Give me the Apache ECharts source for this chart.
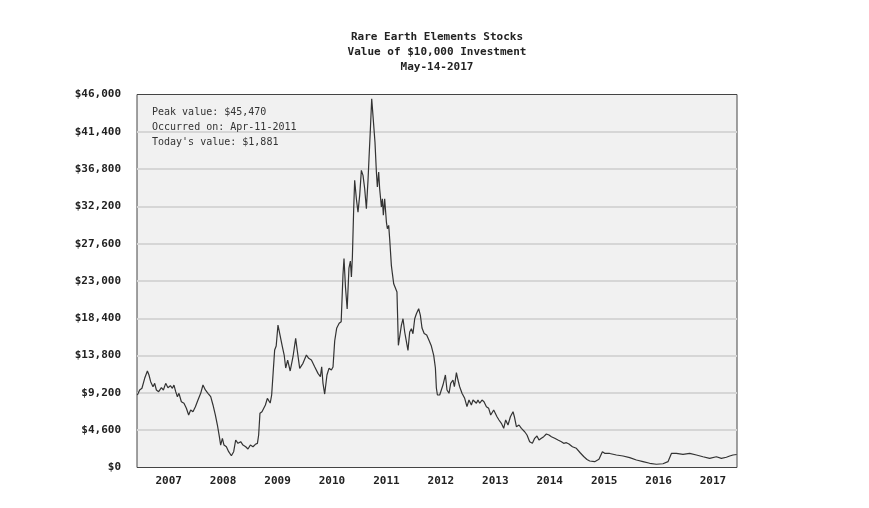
<!DOCTYPE html>
<html>
<head>
<meta charset="utf-8">
<script src="https://cdn.jsdelivr.net/npm/echarts@6/dist/echarts.min.js"></script>
<style>
  html, body { margin: 0; padding: 0; background: #fff; }
  #chart { width: 869px; height: 508px; }
</style>
</head>
<body>
<div id="chart"></div>
<script>
// x position in years (label "2007" sits at 2007)
const dates = [
  2006.425, 2006.467, 2006.509, 2006.559, 2006.609, 2006.638, 2006.669, 2006.712, 2006.743, 2006.774,
  2006.816, 2006.866, 2006.903, 2006.945, 2006.987, 2007.031, 2007.068, 2007.097, 2007.129, 2007.160,
  2007.189, 2007.233, 2007.281, 2007.325, 2007.367, 2007.404, 2007.446, 2007.491, 2007.538, 2007.588,
  2007.630, 2007.674, 2007.722, 2007.772, 2007.814, 2007.858, 2007.895, 2007.931, 2007.955, 2007.987,
  2008.016, 2008.060, 2008.102, 2008.152, 2008.194, 2008.231, 2008.273, 2008.323, 2008.365, 2008.415,
  2008.457, 2008.501, 2008.549, 2008.593, 2008.630, 2008.653, 2008.677, 2008.714, 2008.740, 2008.777,
  2008.813, 2008.843, 2008.865, 2008.892, 2008.920, 2008.947, 2008.975, 2009.008, 2009.039, 2009.089,
  2009.122, 2009.150, 2009.186, 2009.232, 2009.284, 2009.333, 2009.361, 2009.407, 2009.467, 2009.530,
  2009.572, 2009.622, 2009.682, 2009.743, 2009.787, 2009.811, 2009.835, 2009.866, 2009.908, 2009.945,
  2009.989, 2010.019, 2010.050, 2010.086, 2010.132, 2010.169, 2010.202, 2010.221, 2010.248, 2010.279,
  2010.312, 2010.338, 2010.357, 2010.375, 2010.399, 2010.417, 2010.448, 2010.478, 2010.509, 2010.540,
  2010.570, 2010.601, 2010.632, 2010.662, 2010.680, 2010.706, 2010.730, 2010.753, 2010.772, 2010.790,
  2010.816, 2010.834, 2010.858, 2010.876, 2010.908, 2010.926, 2010.944, 2010.968, 2011.000, 2011.018,
  2011.042, 2011.060, 2011.091, 2011.110, 2011.134, 2011.165, 2011.194, 2011.220, 2011.244, 2011.275,
  2011.305, 2011.336, 2011.367, 2011.396, 2011.428, 2011.459, 2011.488, 2011.520, 2011.551, 2011.593,
  2011.624, 2011.654, 2011.694, 2011.740, 2011.782, 2011.826, 2011.869, 2011.900, 2011.918, 2011.937,
  2011.979, 2012.010, 2012.039, 2012.084, 2012.113, 2012.150, 2012.181, 2012.223, 2012.249, 2012.286,
  2012.315, 2012.346, 2012.389, 2012.438, 2012.480, 2012.517, 2012.561, 2012.591, 2012.622, 2012.653,
  2012.682, 2012.714, 2012.756, 2012.793, 2012.837, 2012.879, 2012.916, 2012.947, 2012.971, 2013.002,
  2013.032, 2013.068, 2013.112, 2013.155, 2013.191, 2013.234, 2013.278, 2013.326, 2013.351, 2013.388,
  2013.436, 2013.480, 2013.540, 2013.583, 2013.632, 2013.682, 2013.724, 2013.766, 2013.803, 2013.847,
  2013.890, 2013.939, 2013.987, 2014.031, 2014.092, 2014.152, 2014.215, 2014.257, 2014.307, 2014.354,
  2014.417, 2014.490, 2014.564, 2014.624, 2014.685, 2014.735, 2014.826, 2014.905, 2014.968, 2015.010,
  2015.102, 2015.225, 2015.347, 2015.470, 2015.593, 2015.714, 2015.837, 2015.960, 2016.081, 2016.173,
  2016.236, 2016.327, 2016.449, 2016.572, 2016.695, 2016.816, 2016.939, 2017.062, 2017.154, 2017.246,
  2017.307, 2017.367, 2017.435
]

// value of the $10,000 investment
const values = [
  8940, 9560, 9770, 11000, 11900, 11410, 10580, 9960, 10380, 9560,
  9350, 9840, 9560, 10380, 9840, 10090, 9770, 10170, 9350, 8730,
  9150, 8110, 7920, 7300, 6470, 7090, 6880, 7500, 8320, 9150,
  10170, 9560, 9150, 8730, 7710, 6470, 5240, 3800, 2770, 3600,
  2770, 2560, 1950, 1450, 1950, 3390, 2980, 3180, 2770, 2560,
  2280, 2770, 2560, 2860, 2980, 4010, 6680, 6880, 6680, 7710,
  8530, 8320, 7950, 8940, 11780, 14490, 14980, 17570, 16550, 14890,
  13870, 12270, 13250, 11900, 13660, 15930, 14490, 12230, 12850, 13870,
  13460, 13250, 12430, 11610, 11200, 12430, 10380, 9060, 11410, 12230,
  12020, 12390, 15600, 17160, 17780, 17980, 23740, 25770, 22260, 19540,
  24600, 25460, 23490, 25960, 31910, 35410, 33140, 31500, 33560, 36640,
  36030, 34380, 31910, 35410, 38080, 41770, 45470, 43430, 43620, 40130,
  36440, 34590, 36440, 34380, 32120, 33140, 31100, 33140, 30270, 29440,
  29860, 28210, 24930, 23900, 22660, 22660, 21640, 15070, 14860, 17530,
  18350, 16710, 16920, 14450, 16710, 17110, 16500, 18350, 18960, 19580,
  18770, 17200, 16520, 16340, 15680, 14980, 13830, 12270, 9800, 8940,
  8940, 9150, 10170, 11410, 9560, 9150, 10380, 10790, 9960, 11690,
  10790, 9960, 9150, 8530, 7500, 8320, 7710, 8320, 8530, 7920,
  8320, 7920, 8320, 8110, 7500, 7300, 6470, 6680, 7090, 6880,
  6260, 5860, 5450, 4830, 5860, 5240, 6260, 6880, 6260, 5030,
  5240, 4830, 4410, 4010, 3180, 2980, 3600, 3880, 3390, 3600,
  3800, 4130, 4010, 3800, 3600, 3390, 3180, 2980, 3060, 2900,
  2560, 2370, 1790, 1360, 990, 800, 720, 1010, 1950, 1750,
  1730, 1540, 1420, 1210, 920, 720, 520, 400, 460, 720,
  1730, 1750, 1630, 1750, 1540, 1330, 1130, 1330, 1130, 1260,
  1420, 1540, 1600
]

const yearLabels = [2007, 2008, 2009, 2010, 2011, 2012, 2013, 2014, 2015, 2016, 2017]

const titleLines = ['Rare Earth Elements Stocks', 'Value of $10,000 Investment', 'May-14-2017']
const noteLines = ['Peak value: $45,470', 'Occurred on: Apr-11-2011', "Today's value: $1,881"]

const mono = '"DejaVu Sans Mono", monospace'

const chart = echarts.init(document.getElementById('chart'))
chart.setOption({
  animation: false,
  backgroundColor: '#fff',
  title: [
    {
      text: titleLines.join('\n'),
      left: 437,
      textAlign: 'center',
      top: 30,
      padding: 0,
      textStyle: { fontFamily: mono, fontSize: 11, fontWeight: 'bold', color: '#222', lineHeight: 15 }
    },
    {
      text: noteLines.join('\n'),
      left: 152,
      top: 105,
      padding: 0,
      textStyle: { fontFamily: mono, fontSize: 10, fontWeight: 'normal', color: '#333', lineHeight: 15 }
    }
  ],
  grid: {
    left: 137,
    right: 132,
    top: 94.5,
    bottom: 40.5,
    show: true,
    backgroundColor: '#f1f1f1',
    borderColor: '#444',
    borderWidth: 1
  },
  xAxis: {
    type: 'value',
    min: 2006.418,
    max: 2017.441,
    axisLine: { show: false },
    axisTick: { show: false },
    splitLine: { show: false },
    axisLabel: {
      customValues: yearLabels,
      formatter: v => String(Math.round(v)),
      margin: 8,
      fontFamily: mono,
      fontSize: 11,
      fontWeight: 'bold',
      color: '#222'
    }
  },
  yAxis: {
    type: 'value',
    min: 0,
    max: 46000,
    interval: 4600,
    axisLine: { show: false },
    axisTick: { show: false },
    splitLine: {
      showMinLine: false,
      showMaxLine: false,
      lineStyle: { color: '#d6d6d6', width: 2 }
    },
    axisLabel: {
      formatter: v => '$' + v.toLocaleString('en-US'),
      margin: 16,
      fontFamily: mono,
      fontSize: 11,
      fontWeight: 'bold',
      color: '#222'
    }
  },
  series: [{
    type: 'line',
    data: dates.map((d, i) => [d, values[i]]),
    showSymbol: false,
    lineStyle: { color: '#333', width: 1.2 }
  }]
})
</script>
</body>
</html>
